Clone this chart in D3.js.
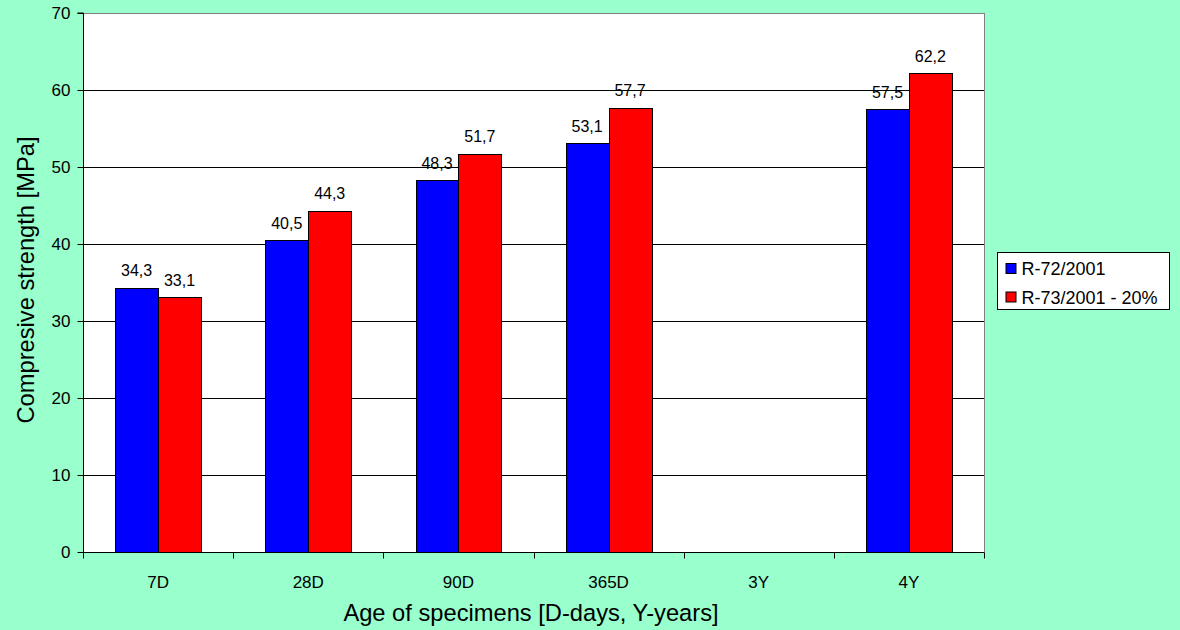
<!DOCTYPE html>
<html>
<head>
<meta charset="utf-8">
<script src="https://cdn.jsdelivr.net/npm/d3@7"></script>
<style>
  html, body { margin: 0; padding: 0; background: #99FFCC; }
  svg { display: block; font-family: "Liberation Sans", Arial, sans-serif; }
</style>
</head>
<body>
<svg id="chart" width="1180" height="630"></svg>
<script>
// Compressive strength by specimen age, two mixes
const categories = ["7D", "28D", "90D", "365D", "3Y", "4Y"];
const seriesNames = ["R-72/2001", "R-73/2001 - 20%"];
const seriesR72 = [34.3, 40.5, 48.3, 53.1, null, 57.5];
const seriesR73 = [33.1, 44.3, 51.7, 57.7, null, 62.2];
const yTicks = [0, 10, 20, 30, 40, 50, 60, 70];
const colors = ["#0000FF", "#FF0000"];

const svg = d3.select("#chart");
const plot = { left: 83, top: 13, right: 984, bottom: 552 };

const x = d3.scaleBand()
  .domain(categories)
  .range([plot.left, plot.right])
  .paddingInner(0).paddingOuter(0);

const y = d3.scaleLinear().domain([0, 70]).range([plot.bottom, plot.top]);

// plot area background
svg.append("rect")
  .attr("x", plot.left).attr("y", plot.top)
  .attr("width", plot.right - plot.left).attr("height", plot.bottom - plot.top)
  .attr("fill", "#FFFFFF").attr("stroke", "#808080").attr("stroke-width", 1)
  .attr("shape-rendering", "crispEdges");

// horizontal gridlines
svg.append("g").selectAll("line")
  .data(yTicks.filter(d => d > 0 && d < 70))
  .join("line")
  .attr("x1", plot.left).attr("x2", plot.right)
  .attr("y1", d => Math.round(y(d)) + 0.5).attr("y2", d => Math.round(y(d)) + 0.5)
  .attr("stroke", "#000").attr("stroke-width", 1);

// bars
const inner = d3.scaleBand().domain([0, 1]).range([0, x.bandwidth()]).paddingOuter(0.75).paddingInner(0);
const series = [seriesR72, seriesR73];
const barData = [];
categories.forEach((c, i) => {
  series.forEach((s, k) => {
    if (s[i] != null) barData.push({ cat: c, k, v: s[i] });
  });
});

svg.append("g").selectAll("rect")
  .data(barData)
  .join("rect")
  .attr("x", d => Math.round(x(d.cat) + inner(d.k)) + 0.5)
  .attr("y", d => Math.round(y(d.v)) + 0.5)
  .attr("width", Math.round(inner.bandwidth()))
  .attr("height", d => Math.round(y(0)) - Math.round(y(d.v)))
  .attr("fill", d => colors[d.k])
  .attr("stroke", "#000").attr("stroke-width", 1);

// value labels
svg.append("g").selectAll("text")
  .data(barData)
  .join("text")
  .attr("x", d => x(d.cat) + inner(d.k) + inner.bandwidth() / 2)
  .attr("y", d => y(d.v) - 11.5)
  .attr("text-anchor", "middle")
  .attr("font-size", 16)
  .attr("fill", "#000")
  .text(d => d3.format(".1f")(d.v).replace(".", ","));

// y axis
const yAxis = d3.axisLeft(y).tickValues(yTicks).tickSize(6).tickPadding(7).tickFormat(d3.format("d"));
const gy = svg.append("g").attr("transform", `translate(${plot.left + 0.5},0)`).call(yAxis);
gy.select(".domain").attr("stroke", "#000").attr("d", `M-6,${plot.top}H0V${plot.bottom}`);
gy.selectAll(".tick line").attr("stroke", "#000");
gy.selectAll(".tick text").attr("font-size", 17).attr("fill", "#000")
  .attr("font-family", "Liberation Sans, Arial, sans-serif");

// x axis with boundary ticks between categories
const gx = svg.append("g").attr("transform", `translate(0,${Math.round(plot.bottom) + 0.5})`);
gx.append("line").attr("x1", plot.left).attr("x2", plot.right).attr("stroke", "#000");
const boundaries = categories.map(c => x(c)).concat([x.range()[1]]);
gx.selectAll("line.tk").data(boundaries).join("line").attr("class", "tk")
  .attr("x1", d => Math.round(d) + 0.5).attr("x2", d => Math.round(d) + 0.5)
  .attr("y1", 0).attr("y2", 6).attr("stroke", "#000");
gx.selectAll("text").data(categories).join("text")
  .attr("x", d => x(d) + x.bandwidth() / 2)
  .attr("y", 35)
  .attr("text-anchor", "middle")
  .attr("font-size", 17)
  .text(d => d);

// axis titles
svg.append("text")
  .attr("x", 531)
  .attr("y", 621)
  .attr("text-anchor", "middle")
  .attr("font-size", 23.7)
  .text("Age of specimens [D-days, Y-years]");

svg.append("text")
  .attr("transform", `translate(34,280) rotate(-90)`)
  .attr("text-anchor", "middle")
  .attr("font-size", 23.7)
  .text("Compresive strength [MPa]");

// legend
const lg = svg.append("g").attr("transform", "translate(997.5,252.5)");
lg.append("rect").attr("width", 172).attr("height", 57)
  .attr("fill", "#FFFFFF").attr("stroke", "#000").attr("stroke-width", 1);
seriesNames.forEach((name, i) => {
  const row = lg.append("g").attr("transform", `translate(8.5,${11 + i * 28.5})`);
  row.append("rect").attr("x", 0).attr("y", 0).attr("width", 10).attr("height", 10)
    .attr("fill", colors[i]).attr("stroke", "#000");
  row.append("text").attr("x", 15.5).attr("y", 11.5).attr("font-size", 18).text(name);
});
</script>
</body>
</html>
